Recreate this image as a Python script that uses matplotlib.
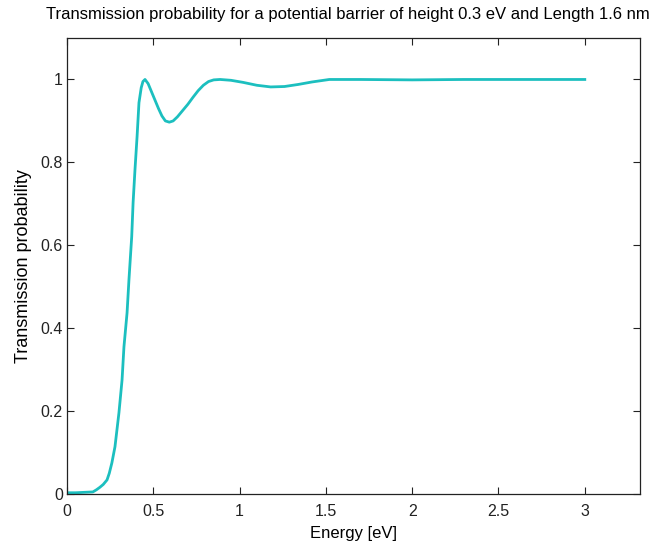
import numpy as np
import matplotlib
matplotlib.use('Agg')
import matplotlib.pyplot as plt

plt.rcParams['font.family'] = ['Liberation Sans', 'DejaVu Sans']

# values
energy = [0.0, 0.05, 0.10, 0.15, 0.17, 0.19, 0.21, 0.232, 0.245, 0.26, 0.278, 0.301, 0.319,
          0.330, 0.348, 0.359, 0.375, 0.383, 0.394, 0.406, 0.417, 0.430, 0.440,
          0.452, 0.47, 0.49, 0.51, 0.53, 0.55, 0.57, 0.593, 0.615, 0.64, 0.67,
          0.70, 0.73, 0.76, 0.79, 0.82, 0.85, 0.887, 0.95, 1.02, 1.10, 1.18, 1.26,
          1.34, 1.42, 1.52, 1.7, 2.0, 2.3, 2.6, 3.0]
trans = [0.003, 0.003, 0.004, 0.005, 0.01, 0.016, 0.023, 0.034, 0.05, 0.075, 0.114, 0.196, 0.275,
         0.355, 0.437, 0.517, 0.621, 0.703, 0.783, 0.862, 0.944, 0.98, 0.995,
         1.0, 0.99, 0.97, 0.95, 0.93, 0.912, 0.90, 0.897, 0.90, 0.91, 0.925,
         0.94, 0.957, 0.973, 0.986, 0.995, 0.999, 1.0, 0.998, 0.993, 0.986, 0.982, 0.983,
         0.988, 0.994, 1.0, 1.0, 0.999, 1.0, 1.0, 1.0]

xticks = [0, 0.5, 1, 1.5, 2, 2.5, 3]
xticklabels = ['0', '0.5', '1', '1.5', '2', '2.5', '3']
yticks = [0, 0.2, 0.4, 0.6, 0.8, 1]
yticklabels = ['0', '0.2', '0.4', '0.6', '0.8', '1']

fig = plt.figure(figsize=(6.62, 5.47), dpi=100)
ax = fig.add_axes([0.1012, 0.0969, 0.8656, 0.8336])
ax.plot(energy, trans, color='#1cbfbf', linewidth=2)

ax.set_xlim(0, 3.32)
ax.set_ylim(0, 1.1)
ax.set_xticks(xticks)
ax.set_xticklabels(xticklabels)
ax.set_yticks(yticks)
ax.set_yticklabels(yticklabels)
ax.tick_params(direction='in', top=True, right=True, length=5, width=0.8,
               labelsize=11.5, colors='#222222', pad=3)
ax.tick_params(axis='x', pad=7)
for s in ax.spines.values():
    s.set_linewidth(0.9)
    s.set_color('#222222')

ax.set_xlabel('Energy [eV]', fontsize=12, labelpad=5)
ax.set_ylabel('Transmission probability', fontsize=13, labelpad=6)
ax.set_title('Transmission probability for a potential barrier of height 0.3 eV and Length 1.6 nm',
             fontsize=12, pad=14, x=0.49)

fig.savefig('out.png', dpi=100)
